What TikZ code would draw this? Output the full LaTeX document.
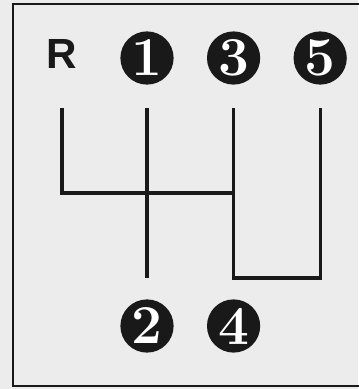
\documentclass[tikz,border=0pt]{standalone}
\usepackage{fontspec}
\usepackage{tikz}
\usetikzlibrary{positioning}
\newfontfamily\gatesans{Liberation Sans}
\definecolor{colPaper}{RGB}{236,236,236}
\definecolor{colInk}{RGB}{25,25,25}

\begin{document}
\begin{tikzpicture}[
        x=0.025cm, y=-0.025cm,
        gear/.style={circle, fill=colInk, text=white, inner sep=0pt, minimum size=1.33cm, font=\fontsize{39}{39}\selectfont\bfseries},
        rev/.style={inner sep=0pt, text=colInk, font=\gatesans\fontsize{30}{30}\selectfont\bfseries},
        gate/.style={draw=colInk, line width=2.2pt, line join=miter},
        frame/.style={draw=colInk, line width=1.5pt}
    ]
    \useasboundingbox (0,0) rectangle (358,389);
    \fill[colPaper] (0,0) rectangle (358,389);
    \draw[frame] (362,4) -- (13,4) -- (13,386) -- (362,386);

    %% -- gear numbers --
    \node[rev] (R) at (62,54) {R};
    \node[gear] (n1) at (147,58) {1};
    \node[gear, right=0.82cm of n1] (n3) {3};
    \node[gear, right=0.82cm of n3] (n5) {5};
    \node[gear] (n2) at (147,326) {2};
    \node[gear] (n4) at (n3 |- n2) {4};

    %% -- gate levels --
    \coordinate (top) at (0,108);
    \coordinate (bar) at (0,193);
    \coordinate (bot) at (0,278);

    %% -- shift pattern --
    \draw[gate] (R |- top) |- (n3 |- bar);
    \draw[gate] (n1 |- top) -- (n2 |- bot);
    \draw[gate] (n3 |- top) |- (n5 |- bot) -- (n5 |- top);

\end{tikzpicture}
\end{document}
